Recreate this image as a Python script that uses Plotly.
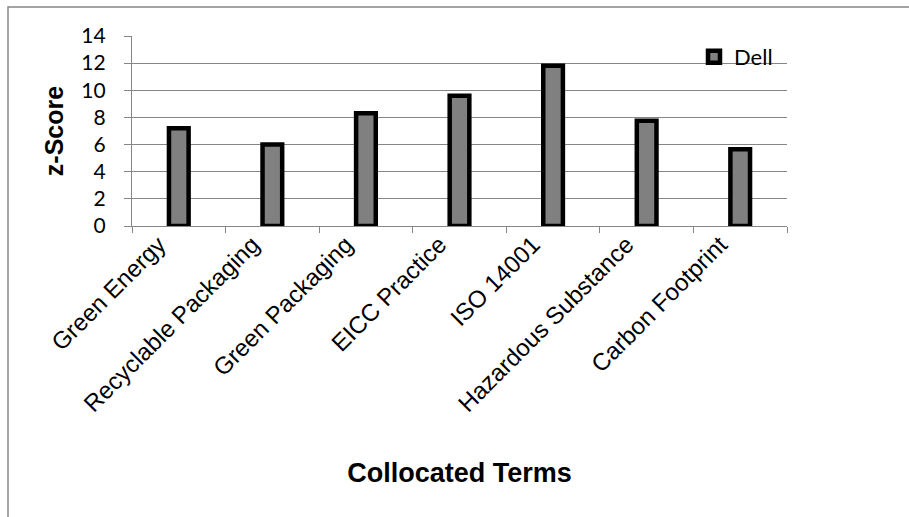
import plotly.graph_objects as go

# Collocated term z-scores for Dell
terms = ["Green Energy", "Recyclable Packaging", "Green Packaging", "EICC Practice",
         "ISO 14001", "Hazardous Substance", "Carbon Footprint"]
dell_z = [7.2, 6.0, 8.3, 9.6, 11.8, 7.75, 5.65]
y_ticks = [0, 2, 4, 6, 8, 10, 12, 14]

W, H = 909, 517
ML, MR, MT, MB = 132, 122, 36, 291
GRAY = "#868686"
ARIAL = "Liberation Sans, Arial, sans-serif"
CALIB = "Lato, Open Sans, sans-serif"

fig = go.Figure()
fig.add_trace(go.Bar(
    x=terms, y=dell_z, name="Dell", width=0.21,
    marker=dict(color="#808080", line=dict(color="#000000", width=4.5)),
))

pw, ph = W - ML - MR, H - MT - MB
def px_to_paper_x(px):
    return (px - ML) / pw
def px_to_paper_y(py):
    return (H - MB - py) / ph

# outer chart frame (open to the right and bottom)
fig.add_shape(type="rect", xref="paper", yref="paper",
              x0=px_to_paper_x(8), x1=px_to_paper_x(930),
              y0=px_to_paper_y(540), y1=px_to_paper_y(7),
              line=dict(color=GRAY, width=1.5), fillcolor="rgba(0,0,0,0)", layer="below")

fig.update_layout(
    width=W, height=H,
    margin=dict(l=ML, r=MR, t=MT, b=MB, pad=0),
    paper_bgcolor="white", plot_bgcolor="white",
    showlegend=True,
    legend=dict(x=px_to_paper_x(778), xanchor="right", y=1.0, yanchor="top",
                font=dict(family=CALIB, size=22, color="black"),
                bgcolor="rgba(0,0,0,0)", itemwidth=30, tracegroupgap=0),
    xaxis=dict(
        type="category", tickangle=-45, tickson="boundaries",
        ticks="outside", ticklen=6, tickcolor=GRAY, tickwidth=1.3,
        ticklabelshift=-20, ticklabelstandoff=-6,
        showline=True, linecolor=GRAY, linewidth=1.3, showgrid=False,
        automargin=False,
        tickfont=dict(family=ARIAL, size=24, color="black"),
        title=dict(text="<b>Collocated Terms</b>", standoff=47,
                   font=dict(family=ARIAL, size=27, color="black")),
        range=[-0.5, len(terms) - 0.5],
    ),
    yaxis=dict(
        range=[0, 14], tickvals=y_ticks,
        ticks="outside", ticklen=7, tickcolor=GRAY, tickwidth=1.3,
        ticklabelstandoff=14,
        showline=True, linecolor=GRAY, linewidth=1.3,
        showgrid=True, gridcolor=GRAY, gridwidth=1.3, zeroline=False,
        automargin=False,
        tickfont=dict(family=CALIB, size=21, color="black"),
        title=dict(text="<b>z-Score</b>", standoff=10,
                   font=dict(family=ARIAL, size=25, color="black")),
    ),
)

fig.write_html("out.html")
